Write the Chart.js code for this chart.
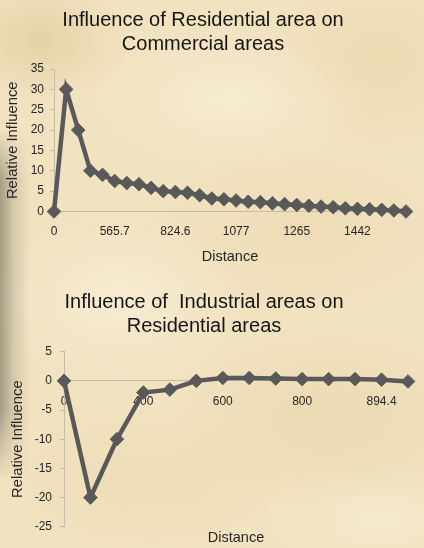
<!DOCTYPE html>
<html>
<head>
<meta charset="utf-8">
<script src="https://cdn.jsdelivr.net/npm/chart.js@4.4.1/dist/chart.umd.min.js"></script>
<style>
html,body{margin:0;padding:0;}
body{
  width:424px;height:548px;overflow:hidden;position:relative;
  background-color:#f1e2c0;
  background-image:
    radial-gradient(ellipse 90px 60px at 40px 40px, rgba(226,204,158,0.75), rgba(226,204,158,0)),
    radial-gradient(ellipse 140px 70px at 230px 100px, rgba(248,238,212,0.8), rgba(248,238,212,0)),
    radial-gradient(ellipse 120px 90px at 380px 60px, rgba(232,212,168,0.6), rgba(232,212,168,0)),
    radial-gradient(ellipse 150px 80px at 300px 230px, rgba(236,218,178,0.7), rgba(236,218,178,0)),
    radial-gradient(ellipse 130px 90px at 120px 300px, rgba(248,238,214,0.8), rgba(248,238,214,0)),
    radial-gradient(ellipse 160px 90px at 330px 420px, rgba(232,214,172,0.7), rgba(232,214,172,0)),
    radial-gradient(ellipse 140px 70px at 150px 480px, rgba(236,218,176,0.7), rgba(236,218,176,0)),
    radial-gradient(ellipse 120px 60px at 380px 520px, rgba(246,236,208,0.8), rgba(246,236,208,0));
}
#strip{position:absolute;left:0;top:130px;width:30px;height:350px;
  background:linear-gradient(to right, rgba(140,132,112,0.75), rgba(180,170,145,0.45) 45%, rgba(242,228,196,0) 100%);
  -webkit-mask-image:linear-gradient(to bottom, rgba(0,0,0,0), #000 15%, #000 80%, rgba(0,0,0,0));
  mask-image:linear-gradient(to bottom, rgba(0,0,0,0), #000 15%, #000 80%, rgba(0,0,0,0));}
#c1{position:absolute;left:0;top:0;}
#c2{position:absolute;left:0;top:280px;}
</style>
</head>
<body>
<div id="strip"></div>
<canvas id="c1" width="424" height="270"></canvas>
<canvas id="c2" width="424" height="268"></canvas>
<script>
// ---- Data ----
const title1 = ['Influence of Residential area on', 'Commercial areas'];
const title2 = ['Influence of  Industrial areas on', 'Residential areas'];
const xTitle = 'Distance';
const yTitle = 'Relative Influence';

const distances1 = ['0','200','282.8','400','447.2','565.7','600','632.5','721.1','800',
  '824.6','848.5','894.4','1000','1019.8','1077','1131.4','1166.2','1200','1216.6',
  '1265','1280.6','1341.6','1400','1414.2','1442','1456','1523.1','1562','1600'];
const influence1 = [0, 30, 20, 10, 9, 7.5, 7, 6.7, 5.8, 5,
  4.8, 4.6, 4, 3.2, 3, 2.7, 2.4, 2.3, 2.0, 1.8,
  1.6, 1.4, 1.2, 1.05, 0.8, 0.65, 0.55, 0.4, 0.25, 0];
const yTicks1 = {min: 0, max: 35, step: 5};

const distances2 = ['0','200','282.8','400','447.2','565.7','600','632.5','721.1','800',
  '824.6','848.5','894.4','1000'];
const influence2 = [0, -20, -10, -2, -1.5, 0, 0.5, 0.5, 0.4, 0.3, 0.3, 0.3, 0.2, -0.1];
const yTicks2 = {min: -25, max: 5, step: 5};

// ---- Styling ----
const FONT = "'Liberation Sans', Arial, sans-serif";
const LINE = '#595959';
const AXIS = '#c4bcaa';
const TEXT = '#262626';

function lineDataset(values) {
  return {
    data: values,
    borderColor: LINE,
    backgroundColor: LINE,
    borderWidth: 4.5,
    pointStyle: 'rectRot',
    pointRadius: 6.8,
    pointHoverRadius: 6.8,
    pointBorderWidth: 1,
    pointBorderColor: LINE,
    pointBackgroundColor: LINE,
    tension: 0,
    clip: false
  };
}

function yScale(t, width, titlePadTop, tickPad) {
  return {
    min: t.min, max: t.max,
    ticks: {stepSize: t.step, padding: tickPad, color: TEXT, font: {family: FONT, size: 12}},
    grid: {display: true, drawOnChartArea: false, drawTicks: true, tickLength: 4, color: AXIS},
    border: {display: true, color: AXIS, width: 1},
    title: {display: true, text: yTitle, color: TEXT, font: {family: FONT, size: 14.8}, padding: {top: titlePadTop, bottom: 0}},
    afterFit: s => { s.width = width; }
  };
}

// ---- Chart 1 ----
new Chart(document.getElementById('c1'), {
  type: 'line',
  data: {labels: distances1, datasets: [lineDataset(influence1)]},
  options: {
    responsive: false, animation: false, events: [],
    layout: {padding: {left: 0, right: 18, top: 0, bottom: 0}},
    plugins: {
      legend: {display: false}, tooltip: {enabled: false},
      title: {display: true, text: title1, color: '#151515',
        font: {family: FONT, size: 20, weight: 'normal', lineHeight: 1.23},
        padding: {top: 7.7, bottom: 12.1}}
    },
    scales: {
      x: {
        type: 'category', offset: false,
        grid: {display: false, drawTicks: false},
        border: {display: true, color: AXIS, width: 1},
        ticks: {autoSkip: false, maxRotation: 0, minRotation: 0, padding: 13, color: TEXT,
          font: {family: FONT, size: 12},
          callback: (v, i) => (i % 5 === 0 ? distances1[i] : '')},
        title: {display: true, text: xTitle, color: TEXT, font: {family: FONT, size: 14.5}, padding: {top: 4, bottom: 4}},
        afterFit: s => { s.height = 58.5; }
      },
      y: yScale(yTicks1, 54, 4.5, 6)
    }
  }
});

// ---- Chart 2 ----
new Chart(document.getElementById('c2'), {
  type: 'line',
  data: {labels: distances2, datasets: [Object.assign(lineDataset(influence2), {xAxisID: 'x', yAxisID: 'y'})]},
  options: {
    responsive: false, animation: false, events: [],
    layout: {padding: {left: 0, right: 16, top: 0, bottom: 0}},
    plugins: {
      legend: {display: false}, tooltip: {enabled: false},
      title: {display: true, text: title2, color: '#151515',
        font: {family: FONT, size: 20, weight: 'normal', lineHeight: 1.23},
        padding: {top: 9.7, bottom: 12.8}}
    },
    scales: {
      x: {
        type: 'category', offset: false, position: 'bottom',
        grid: {display: false, drawTicks: false},
        border: {display: false},
        ticks: {display: false},
        title: {display: true, text: xTitle, color: TEXT, font: {family: FONT, size: 14.5}, padding: {top: 0, bottom: 1.3}},
        afterFit: s => { s.height = 21.3; }
      },
      x2: {
        type: 'category', axis: 'x', offset: false, bounds: 'ticks',
        position: {y: 0},
        grid: {display: false, drawTicks: false},
        border: {display: true, color: AXIS, width: 1},
        ticks: {autoSkip: false, maxRotation: 0, minRotation: 0, padding: 13.5, color: TEXT,
          font: {family: FONT, size: 12},
          callback: (v, i) => (i % 3 === 0 ? distances2[i] : '')}
      },
      y: yScale(yTicks2, 64, 9.5, 8)
    }
  }
});
</script>
</body>
</html>
